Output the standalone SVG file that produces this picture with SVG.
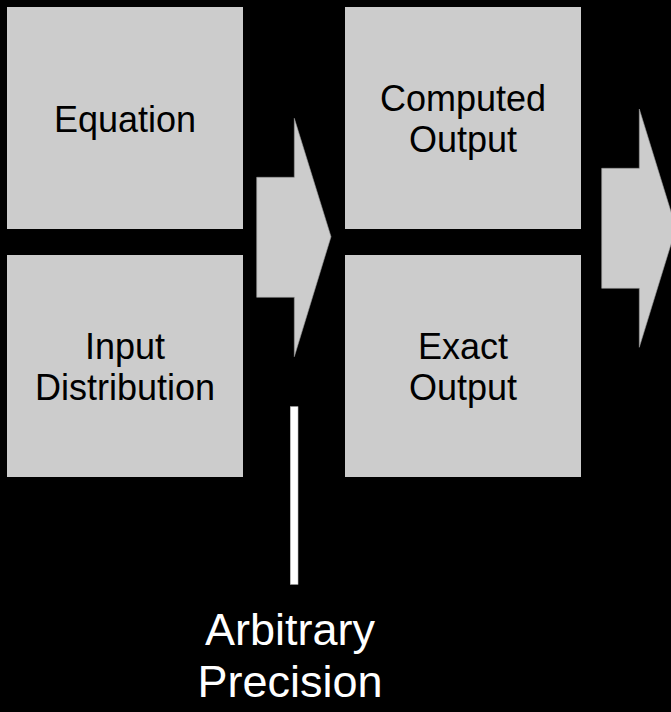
<svg xmlns="http://www.w3.org/2000/svg" width="671" height="712" viewBox="0 0 671 712">
  <style>
    .box { fill: #cccccc; }
    .lbl { font-family: "Liberation Sans", Arial, sans-serif; font-size: 36px; fill: #000000; text-anchor: middle; }
    .cap { font-family: "Liberation Sans", Arial, sans-serif; font-size: 45px; fill: #ffffff; text-anchor: middle; }
    .arrow { fill: #cccccc; stroke: #9a9a9a; stroke-width: 0.6; }
  </style>
  <rect x="0" y="0" width="671" height="712" fill="#000000"/>
  <g id="equation">
    <rect class="box" x="7" y="7" width="236" height="222"/>
    <text class="lbl" x="125" y="132">Equation</text>
  </g>
  <g id="input-distribution">
    <rect class="box" x="7" y="255" width="236" height="222"/>
    <text class="lbl" x="125" y="359">Input</text>
    <text class="lbl" x="125" y="400">Distribution</text>
  </g>
  <g id="computed-output">
    <rect class="box" x="345" y="7" width="236" height="222"/>
    <text class="lbl" x="463" y="111">Computed</text>
    <text class="lbl" x="463" y="152">Output</text>
  </g>
  <g id="exact-output">
    <rect class="box" x="345" y="255" width="236" height="222"/>
    <text class="lbl" x="463" y="359">Exact</text>
    <text class="lbl" x="463" y="400">Output</text>
  </g>
  <g id="connectors">
    <polygon class="arrow" points="256.7,177.3 294.3,177.3 294.3,118.3 331,236.7 294.3,356.7 294.3,297.3 256.7,297.3"/>
    <polygon class="arrow" points="601.7,168.3 639.3,168.3 639.3,109 676,228 639.3,347.3 639.3,288.3 601.7,288.3"/>
  </g>
  <g id="arbitrary-precision">
    <rect x="290.3" y="406.7" width="7.7" height="177.6" fill="#ffffff" stroke="#bbbbbb" stroke-width="0.6"/>
    <text class="cap" x="290" y="645">Arbitrary</text>
    <text class="cap" x="290" y="697">Precision</text>
  </g>
</svg>
